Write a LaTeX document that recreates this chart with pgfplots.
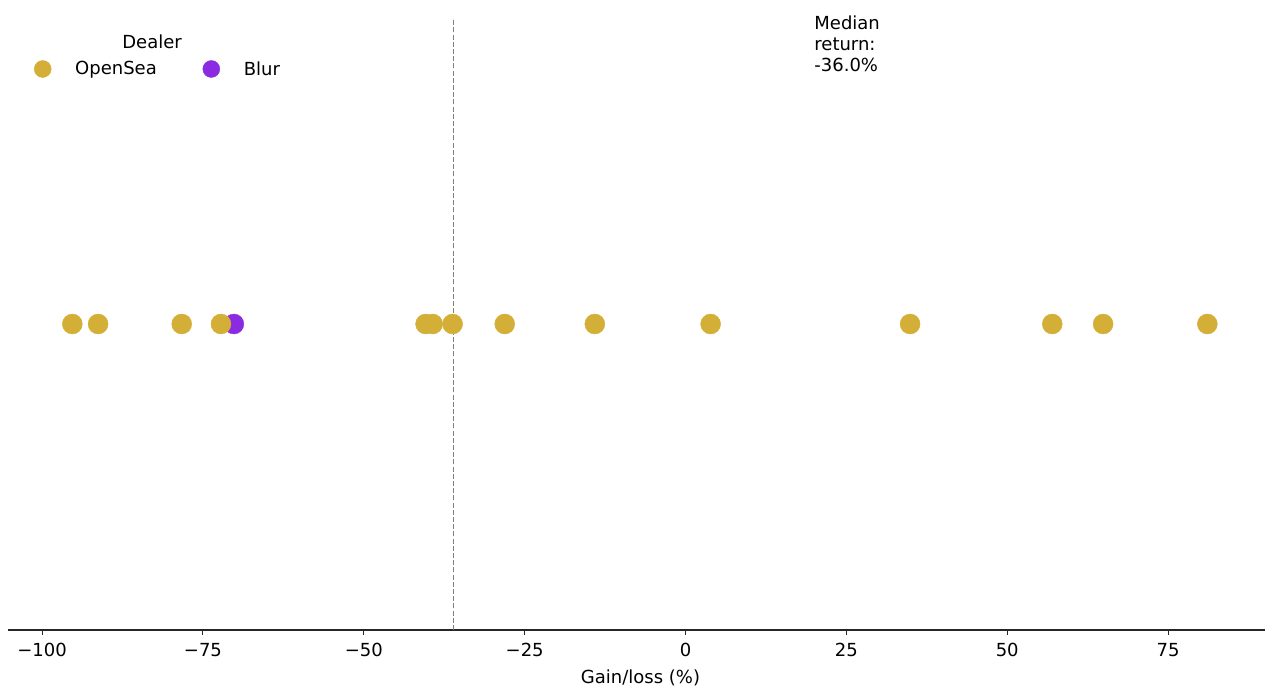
\documentclass[border=0pt]{standalone}
\usepackage{fontspec}
\setmainfont{DejaVu Sans}
\usepackage{pgfplots}
\pgfplotsset{compat=1.18}
\definecolor{gold}{RGB}{212,175,55}
\definecolor{blurpurple}{RGB}{138,43,226}
\begin{document}
\begin{tikzpicture}[font=\fontsize{18}{21.6}\selectfont, x=1pt, y=1pt]
\useasboundingbox (0,0) rectangle (1265,688);
\begin{axis}[
  at={(8pt,58pt)}, anchor=south west,
  width=1257pt, height=612pt, scale only axis,
  xmin=-105.3, xmax=90.06, ymin=-1, ymax=1,
  clip=false,
  axis x line*=bottom, axis y line=none,
  axis line style={-, line width=1.2pt, black!85},
  xtick={-100,-75,-50,-25,0,25,50,75},
  xticklabels={−100,−75,−50,−25,0,25,50,75},
  xticklabel style={yshift=-5pt},
  xtick align=outside, major tick length=5pt,
  xtick style={line width=1pt, black!85},
  ytick=\empty,
  xlabel={Gain/loss (\%)},
  xlabel style={yshift=-6pt, xshift=4pt},
  legend columns=2,
  legend style={at={(rel axis cs:0.0207,0.9167)}, anchor=west, draw=none, fill=none,
    inner sep=0pt,
    /tikz/every odd column/.append style={column sep=22pt},
    /tikz/every even column/.append style={column sep=44pt}},
  legend image code/.code={\draw[#1, mark size=8.5pt] plot[only marks] coordinates {(8.5pt,0pt)};},
]
\addplot[dashed, dash pattern=on 5pt off 2.2pt, gray, line width=1.1pt, forget plot] coordinates {(-36,-1) (-36,1)};
\addplot[only marks, mark=*, mark size=10pt, color=blurpurple, forget plot] coordinates {(-70.2,0)};
\addplot[only marks, mark=*, mark size=10pt, color=gold] coordinates {
(-95.3,0) (-91.3,0) (-78.3,0) (-72.2,0) (-40.4,0) (-39.3,0) (-36.2,0) (-28.1,0)
(-14.1,0) (3.9,0) (34.9,0) (57.0,0) (64.9,0) (81.1,0)};
\addlegendentry{OpenSea}
\addlegendimage{only marks, mark=*, color=blurpurple}
\addlegendentry{Blur}
\node[anchor=center] at (rel axis cs:0.1146,0.9608) {Dealer};
\node[anchor=north west, align=left, inner sep=0pt, font=\fontsize{18}{21}\selectfont] at ([yshift=2pt]axis cs:20,1) {Median\\return:\\-36.0\%};
\end{axis}
\end{tikzpicture}
\end{document}
